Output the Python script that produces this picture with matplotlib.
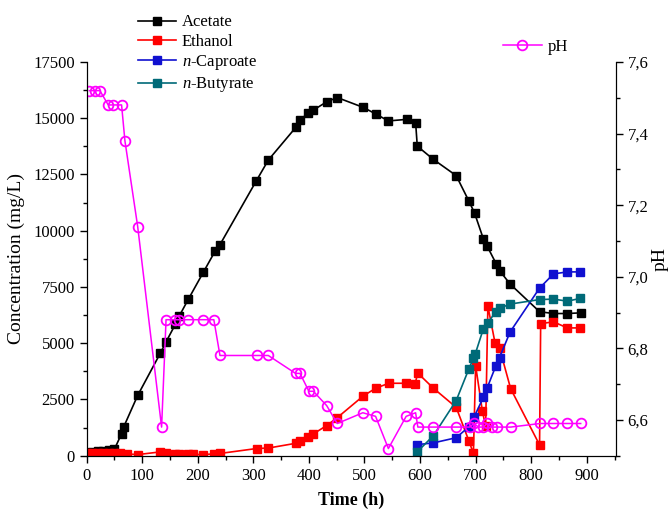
import matplotlib
matplotlib.use('Agg')
import matplotlib.pyplot as plt
from matplotlib.ticker import MultipleLocator, FuncFormatter

plt.rcParams['font.family'] = ['Liberation Serif', 'DejaVu Serif']
plt.rcParams['mathtext.fontset'] = 'custom'
plt.rcParams['mathtext.it'] = 'Liberation Serif:italic'
plt.rcParams['mathtext.rm'] = 'Liberation Serif'

# Acetate (mg/L)
t_ace = [0, 10, 20, 30, 40, 50, 63, 67, 92, 133, 143, 160, 167, 183, 210, 231, 240,
         305, 327, 377, 384, 399, 408, 432, 451, 498, 521, 543, 576, 592, 595, 624,
         665, 688, 698, 714, 721, 737, 743, 762, 815, 840, 865, 889]
ace = [100, 150, 200, 220, 240, 280, 980, 1290, 2680, 4570, 5060, 5850, 6220, 6950,
       8150, 9080, 9380, 12200, 13140, 14610, 14900, 15250, 15360, 15730, 15920,
       15480, 15180, 14880, 14950, 14810, 13760, 13170, 12450, 11310, 10790, 9630,
       9300, 8530, 8230, 7630, 6400, 6320, 6320, 6350]

# Ethanol (mg/L)
t_eth = [0, 10, 20, 30, 40, 50, 60, 72, 92, 133, 143, 160, 167, 183, 192, 209, 229,
         240, 306, 327, 376, 384, 399, 408, 432, 451, 498, 521, 544, 575, 591, 596,
         624, 665, 688, 696, 700, 712, 718, 722, 735, 743, 763, 815, 817, 840, 865, 888]
eth = [100, 120, 130, 140, 130, 120, 100, 80, 50, 170, 100, 70, 70, 60, 60, 50, 80,
       100, 320, 340, 550, 640, 820, 970, 1340, 1690, 2660, 3010, 3220, 3220, 3200,
       3670, 3000, 2150, 650, 100, 4000, 2000, 1300, 6650, 5000, 4780, 2980, 480,
       5870, 5950, 5680, 5680]

# n-Caproate (mg/L)
t_cap = [594, 624, 665, 688, 697, 714, 721, 736, 743, 762, 815, 840, 865, 888]
cap = [490, 570, 800, 1290, 1710, 2600, 3030, 3970, 4360, 5500, 7450, 8080, 8170, 8170]

# n-Butyrate (mg/L)
t_but = [594, 624, 665, 688, 696, 699, 714, 722, 736, 743, 762, 815, 840, 865, 888]
but = [150, 890, 2450, 3870, 4330, 4500, 5650, 5900, 6400, 6550, 6740, 6940, 6960,
       6870, 6990]

# pH
t_ph = [5, 15, 24, 39, 48, 63, 69, 92, 135, 143, 159, 167, 183, 209, 229, 240, 306,
        327, 376, 384, 400, 408, 432, 451, 497, 520, 543, 575, 592, 596, 624, 665,
        689, 697, 705, 714, 720, 729, 738, 763, 816, 840, 865, 889]
ph = [7.52, 7.52, 7.52, 7.48, 7.48, 7.48, 7.38, 7.14, 6.58, 6.88, 6.88, 6.88, 6.88,
      6.88, 6.88, 6.78, 6.78, 6.78, 6.73, 6.73, 6.68, 6.68, 6.64, 6.59, 6.62, 6.61,
      6.52, 6.61, 6.62, 6.58, 6.58, 6.58, 6.58, 6.59, 6.58, 6.58, 6.59, 6.58, 6.58,
      6.58, 6.59, 6.59, 6.59, 6.59]

fig = plt.figure(figsize=(6.71, 5.14), dpi=100)
ax = fig.add_axes([0.129, 0.1134, 0.7886, 0.766])

ms = 6.3
l1, = ax.plot(t_ace, ace, '-s', color='black', lw=1.2, ms=ms, label='Acetate')
l2, = ax.plot(t_eth, eth, '-s', color='#ff0000', lw=1.2, ms=ms, label='Ethanol')
l3, = ax.plot(t_cap, cap, '-s', color='#1010d0', lw=1.2, ms=ms, label='$n$-Caproate')
l4, = ax.plot(t_but, but, '-s', color='#006a78', lw=1.2, ms=ms, label='$n$-Butyrate')

ax.set_xlim(0, 952)
ax.set_ylim(0, 17500)
ax.xaxis.set_major_locator(MultipleLocator(100))
ax.xaxis.set_minor_locator(MultipleLocator(50))
ax.yaxis.set_major_locator(MultipleLocator(2500))
ax.yaxis.set_minor_locator(MultipleLocator(1250))
ax.set_xticks(range(0, 901, 100))
ax.spines['top'].set_visible(False)
ax.tick_params(which='major', direction='out', length=5, width=1, labelsize=12)
ax.tick_params(which='minor', direction='out', length=3, width=1)
ax.set_xlabel('Time (h)', fontsize=13, fontweight='bold', labelpad=6)
ax.set_ylabel('Concentration (mg/L)', fontsize=14, labelpad=6)

ax2 = ax.twinx()
l5, = ax2.plot(t_ph, ph, '-o', color='#ff00ff', lw=1.1, ms=7, mfc='none',
               mec='#ff00ff', mew=1.3, label='pH')
ax2.set_ylim(6.5, 7.6)
ax2.yaxis.set_major_locator(MultipleLocator(0.2))
ax2.yaxis.set_minor_locator(MultipleLocator(0.1))
ax2.yaxis.set_major_formatter(FuncFormatter(lambda v, p: f'{v:.1f}'.replace('.', ',')))
ax2.spines['top'].set_visible(False)
ax2.tick_params(which='major', direction='out', length=5, width=1, labelsize=12)
ax2.tick_params(which='minor', direction='out', length=3, width=1)
ax2.set_ylabel('pH', fontsize=14, labelpad=2)

fig.legend(handles=[l1, l2, l3, l4], loc='upper left', bbox_to_anchor=(0.205, 0.972),
           frameon=False, fontsize=12, handlelength=2.3, handletextpad=0.35,
           labelspacing=0.2, borderpad=0, borderaxespad=0, numpoints=1)
fig.legend(handles=[l5], loc='upper left', bbox_to_anchor=(0.75, 0.925),
           frameon=False, fontsize=12, handlelength=2.3, handletextpad=0.35,
           borderpad=0, borderaxespad=0, numpoints=1)

fig.savefig('out.png', dpi=100)
